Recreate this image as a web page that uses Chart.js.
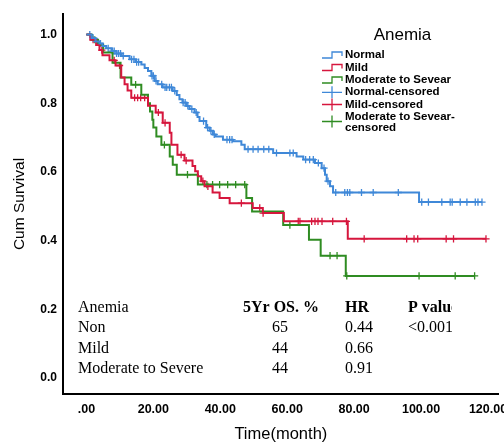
<!DOCTYPE html>
<html>
<head>
<meta charset="utf-8">
<script src="https://cdn.jsdelivr.net/npm/chart.js@4.4.1/dist/chart.umd.min.js"></script>
<style>
    html, body { margin: 0; padding: 0; background: #fff; }
    #wrap { width: 504px; height: 443px; position: relative; }
</style>
</head>
<body>
<div id="wrap"><canvas id="km"></canvas></div>
<script>
// ── Data ───────────────────────────────────────────────────

const xTicks = [0, 20, 40, 60, 80, 100, 120];
const yTicks = [0, 0.2, 0.4, 0.6, 0.8, 1.0];

const normalMonths = [0, 1.5, 2.7, 3.9, 4.8, 5.9, 7.5, 8.9, 10.5, 12.9, 14.7, 16.4, 17.4, 18.4, 19.4, 20.4, 21.3, 22.8, 25.8, 27.0, 27.8, 28.7, 29.9, 30.8, 32.3, 33.2, 33.8, 35.8, 36.8, 37.8, 38.6, 40.8, 43.8, 46.3, 47.3, 55.8, 62.8, 64.8, 68.3, 70.3, 71.3, 71.8, 72.8, 73.7, 99.4, 118.2];
const normalSurvival = [1.0, 0.99, 0.98, 0.974, 0.967, 0.96, 0.952, 0.945, 0.938, 0.928, 0.92, 0.913, 0.903, 0.894, 0.88, 0.865, 0.855, 0.846, 0.836, 0.824, 0.812, 0.802, 0.792, 0.783, 0.773, 0.76, 0.748, 0.729, 0.72, 0.709, 0.703, 0.694, 0.689, 0.679, 0.666, 0.655, 0.645, 0.636, 0.626, 0.611, 0.592, 0.573, 0.558, 0.54, 0.512, 0.512];
const normalCensored = [1.0, 2.0, 3.2, 4.2, 6.5, 7.8, 8.3, 9.0, 9.6, 10.2, 11.0, 13.5, 14.2, 15.0, 15.6, 19.6, 20.0, 20.8, 22.5, 23.5, 24.0, 24.8, 25.4, 26.4, 28.9, 29.5, 30.3, 31.5, 32.8, 35.0, 36.2, 37.2, 38.2, 42.0, 42.8, 43.5, 48.3, 49.8, 51.3, 53.0, 54.5, 56.8, 60.8, 61.8, 65.5, 66.7, 67.8, 69.3, 71.0, 72.2, 74.5, 77.2, 78.0, 78.7, 82.2, 85.7, 93.2, 100.2, 102.2, 106.2, 108.7, 109.3, 111.7, 113.7, 116.2, 117.0, 118.2];

const mildMonths = [0, 1.2, 2.9, 3.9, 4.8, 6.9, 8.7, 10.4, 11.4, 12.3, 13.4, 18.4, 20.7, 22.8, 24.9, 25.4, 27.2, 29.3, 31.7, 32.5, 33.3, 34.3, 35.3, 37.7, 39.8, 42.8, 49.7, 52.7, 59.0, 78.1, 119.4];
const mildSurvival = [1.0, 0.985, 0.97, 0.955, 0.94, 0.925, 0.91, 0.875, 0.855, 0.837, 0.816, 0.793, 0.773, 0.743, 0.714, 0.679, 0.65, 0.633, 0.617, 0.602, 0.587, 0.573, 0.558, 0.54, 0.524, 0.509, 0.495, 0.48, 0.456, 0.405, 0.405];
const mildCensored = [2.0, 4.6, 8.3, 9.9, 14.4, 15.3, 16.2, 17.4, 21.5, 23.5, 28.3, 29.8, 34.8, 36.3, 46.3, 51.8, 52.8, 63.3, 63.8, 67.3, 68.3, 69.2, 70.4, 73.6, 77.7, 83.0, 95.7, 97.9, 99.0, 107.5, 109.7, 119.4];

const severeMonths = [0, 1.5, 3.5, 5.0, 7.8, 10.2, 13.4, 16.4, 18.4, 19.0, 19.7, 20.0, 20.9, 22.4, 24.9, 25.8, 27.0, 33.3, 47.8, 49.5, 58.8, 66.5, 70.0, 77.5, 116.0];
const severeSurvival = [1.0, 0.985, 0.97, 0.948, 0.918, 0.875, 0.854, 0.825, 0.80, 0.776, 0.752, 0.729, 0.703, 0.679, 0.645, 0.621, 0.592, 0.563, 0.524, 0.485, 0.445, 0.402, 0.356, 0.297, 0.297];
const severeCensored = [2.5, 14.7, 23.3, 30.2, 36.0, 37.7, 39.8, 42.2, 44.6, 47.3, 60.8, 72.8, 74.9, 77.8, 99.4, 110.2, 116.0];

const legendTitle = 'Anemia';
const legendLabels = ['Normal', 'Mild', 'Moderate to Sevear', 'Normal-censored', 'Mild-censored', 'Moderate to Sevear-|censored'];

const tableHeader = ['Anemia', '5Yr OS. %', 'HR', 'P value'];
const tableRows = [
    ['Non', '65', '0.44', '<0.001'],
    ['Mild', '44', '0.66', ''],
    ['Moderate to Severe', '44', '0.91', '']
];

const COLORS = ['#3f88d8', '#d6163d', '#2f8c22'];
const SANS = '"Liberation Sans", Arial, sans-serif';
const SERIF = '"Liberation Serif", "Times New Roman", serif';

// ── Helpers ────────────────────────────────────────────────

function toPoints(months, surv) {
    return months.map((m, i) => ({ x: m, y: surv[i] }));
}

// value of the step curve at a censoring time
function survivalAt(months, surv, t) {
    let s = surv[0];
    for (let i = 0; i < months.length; i++) {
        if (months[i] <= t) s = surv[i];
    }
    return s;
}

function censorPoints(months, surv, times) {
    return times.map(t => ({ x: t, y: survivalAt(months, surv, t) }));
}

function stepSet(label, pts, color) {
    return {
        label, data: pts, borderColor: color, backgroundColor: color,
        borderWidth: 2, stepped: true, pointRadius: 0, fill: false
    };
}

function censorSet(label, pts, color) {
    return {
        label, data: pts, borderColor: color, backgroundColor: color,
        showLine: false, pointStyle: 'cross', pointRadius: 3.6, borderWidth: 1.3
    };
}

// ── Legend + table plugin ─────────────────────────────────

const overlayPlugin = {
    id: 'kmOverlay',
    afterDraw(chart) {
        const { ctx } = chart;
        ctx.save();

        // legend
        ctx.fillStyle = '#000';
        ctx.textAlign = 'center';
        ctx.textBaseline = 'middle';
        ctx.font = '17px ' + SANS;
        ctx.fillText(legendTitle, 402.5, 35.5);

        const rowY = [55, 67.5, 80, 92.3, 104.5, 121.5];
        ctx.font = 'bold 11.5px ' + SANS;
        ctx.textAlign = 'left';
        legendLabels.forEach((lbl, i) => {
            const y = rowY[i];
            const color = COLORS[i % 3];
            ctx.strokeStyle = color;
            ctx.lineWidth = 1.3;
            ctx.beginPath();
            if (i < 3) {
                ctx.moveTo(322, y + 3);
                ctx.lineTo(332, y + 3);
                ctx.lineTo(332, y - 3);
                ctx.lineTo(342, y - 3);
                ctx.lineTo(342, y + 1);
            } else {
                ctx.moveTo(322, y);
                ctx.lineTo(342, y);
                ctx.moveTo(332, y - 6);
                ctx.lineTo(332, y + 6);
            }
            ctx.stroke();
            ctx.fillStyle = '#000';
            const parts = lbl.split('|');
            if (parts.length === 1) {
                ctx.fillText(parts[0], 345, y);
            } else {
                ctx.fillText(parts[0], 345, y - 5);
                ctx.fillText(parts[1], 345, y + 6);
            }
        });

        // stats table (image was cut on the right)
        ctx.beginPath();
        ctx.rect(0, 290, 452, 100);
        ctx.clip();
        const colX = [78, 280, 345, 408];
        const colAlign = ['left', 'center', 'left', 'left'];
        const tY = [307.5, 328, 348.5, 369];
        ctx.fillStyle = '#000';
        ctx.textBaseline = 'middle';
        tableHeader.forEach((h, c) => {
            ctx.font = (c === 0 ? '' : 'bold ') + '16px ' + SERIF;
            ctx.textAlign = c === 1 ? 'left' : colAlign[c];
            ctx.fillText(h, c === 1 ? 243 : colX[c], tY[0]);
        });
        ctx.font = '16px ' + SERIF;
        tableRows.forEach((row, r) => {
            row.forEach((v, c) => {
                ctx.textAlign = colAlign[c];
                ctx.fillText(v, colX[c], tY[r + 1]);
            });
        });

        ctx.restore();
    }
};

// ── Chart ──────────────────────────────────────────────────

const datasets = [
    stepSet('Normal', toPoints(normalMonths, normalSurvival), COLORS[0]),
    stepSet('Mild', toPoints(mildMonths, mildSurvival), COLORS[1]),
    stepSet('Moderate to Sevear', toPoints(severeMonths, severeSurvival), COLORS[2]),
    censorSet('Normal-censored', censorPoints(normalMonths, normalSurvival, normalCensored), COLORS[0]),
    censorSet('Mild-censored', censorPoints(mildMonths, mildSurvival, mildCensored), COLORS[1]),
    censorSet('Moderate to Sevear-censored', censorPoints(severeMonths, severeSurvival, severeCensored), COLORS[2])
];

new Chart(document.getElementById('km'), {
    type: 'line',
    data: { datasets },
    plugins: [overlayPlugin],
    options: {
        responsive: true,
        maintainAspectRatio: false,
        animation: false,
        events: [],
        layout: { padding: { left: 0, right: 0, top: 14, bottom: 0 } },
        plugins: { legend: { display: false }, tooltip: { enabled: false } },
        scales: {
            x: {
                type: 'linear',
                min: -7,
                max: 123.2,
                grid: { display: false, drawTicks: false },
                border: { display: true, color: '#000', width: 2 },
                afterBuildTicks: s => { s.ticks = xTicks.map(v => ({ value: v })); },
                afterFit: s => { s.height = 49; s.paddingLeft = 0; s.paddingRight = 0; },
                ticks: {
                    autoSkip: false,
                    maxRotation: 0,
                    padding: 8,
                    color: '#000',
                    font: { family: SANS, size: 12.5, weight: 'bold' },
                    callback: v => v.toFixed(2).replace(/^0/, '')
                },
                title: {
                    display: true,
                    text: 'Time(month)',
                    color: '#000',
                    padding: { top: 0, bottom: 0 },
                    font: { family: SANS, size: 16.5, lineHeight: 1 }
                }
            },
            y: {
                min: -0.047,
                max: 1.06,
                grid: { display: false, drawTicks: false },
                border: { display: true, color: '#000', width: 2 },
                afterBuildTicks: s => { s.ticks = yTicks.map(v => ({ value: v })); },
                afterFit: s => { s.width = 63; s.paddingTop = 0; s.paddingBottom = 0; },
                ticks: {
                    padding: 6,
                    color: '#000',
                    font: { family: SANS, size: 12, weight: 'bold' },
                    callback: v => v.toFixed(1)
                },
                title: {
                    display: true,
                    text: 'Cum Survival',
                    color: '#000',
                    padding: { top: 10, bottom: 0 },
                    font: { family: SANS, size: 15.5 }
                }
            }
        }
    }
});
</script>
</body>
</html>
